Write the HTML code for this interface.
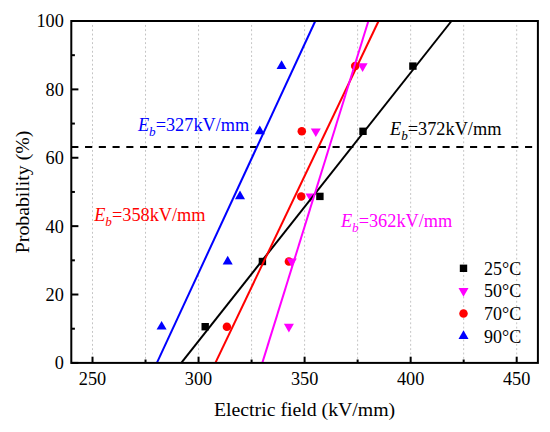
<!DOCTYPE html><html><head><meta charset="utf-8"><style>html,body{margin:0;padding:0;background:#fff;overflow:hidden;}svg{display:block;}text{font-family:"Liberation Serif",serif;}</style></head><body>
<svg width="550" height="432" viewBox="0 0 550 432">
<rect width="550" height="432" fill="#fff"/>
<line x1="92.51" y1="24.95" x2="92.51" y2="361.90" stroke="#c4c4c4" stroke-width="1" stroke-dasharray="1.9 2.41"/>
<line x1="145.53" y1="24.95" x2="145.53" y2="361.90" stroke="#c4c4c4" stroke-width="1" stroke-dasharray="1.9 2.41"/>
<line x1="198.55" y1="24.95" x2="198.55" y2="361.90" stroke="#c4c4c4" stroke-width="1" stroke-dasharray="1.9 2.41"/>
<line x1="251.58" y1="24.95" x2="251.58" y2="361.90" stroke="#c4c4c4" stroke-width="1" stroke-dasharray="1.9 2.41"/>
<line x1="304.60" y1="24.95" x2="304.60" y2="361.90" stroke="#c4c4c4" stroke-width="1" stroke-dasharray="1.9 2.41"/>
<line x1="357.62" y1="24.95" x2="357.62" y2="361.90" stroke="#c4c4c4" stroke-width="1" stroke-dasharray="1.9 2.41"/>
<line x1="410.65" y1="24.95" x2="410.65" y2="361.90" stroke="#c4c4c4" stroke-width="1" stroke-dasharray="1.9 2.41"/>
<line x1="463.67" y1="24.95" x2="463.67" y2="361.90" stroke="#c4c4c4" stroke-width="1" stroke-dasharray="1.9 2.41"/>
<line x1="516.69" y1="24.95" x2="516.69" y2="361.90" stroke="#c4c4c4" stroke-width="1" stroke-dasharray="1.9 2.41"/>
<line x1="71.30" y1="146.9" x2="537.90" y2="146.9" stroke="#000" stroke-width="2" stroke-dasharray="7.1 6.65"/>
<line x1="92.51" y1="362.90" x2="92.51" y2="356.70" stroke="#000" stroke-width="2"/>
<line x1="198.55" y1="362.90" x2="198.55" y2="356.70" stroke="#000" stroke-width="2"/>
<line x1="304.60" y1="362.90" x2="304.60" y2="356.70" stroke="#000" stroke-width="2"/>
<line x1="410.65" y1="362.90" x2="410.65" y2="356.70" stroke="#000" stroke-width="2"/>
<line x1="516.69" y1="362.90" x2="516.69" y2="356.70" stroke="#000" stroke-width="2"/>
<line x1="145.53" y1="362.90" x2="145.53" y2="359.50" stroke="#000" stroke-width="2"/>
<line x1="251.58" y1="362.90" x2="251.58" y2="359.50" stroke="#000" stroke-width="2"/>
<line x1="357.62" y1="362.90" x2="357.62" y2="359.50" stroke="#000" stroke-width="2"/>
<line x1="463.67" y1="362.90" x2="463.67" y2="359.50" stroke="#000" stroke-width="2"/>
<line x1="71.30" y1="362.90" x2="78.40" y2="362.90" stroke="#000" stroke-width="2"/>
<line x1="71.30" y1="294.52" x2="78.40" y2="294.52" stroke="#000" stroke-width="2"/>
<line x1="71.30" y1="226.14" x2="78.40" y2="226.14" stroke="#000" stroke-width="2"/>
<line x1="71.30" y1="157.76" x2="78.40" y2="157.76" stroke="#000" stroke-width="2"/>
<line x1="71.30" y1="89.38" x2="78.40" y2="89.38" stroke="#000" stroke-width="2"/>
<line x1="71.30" y1="21.00" x2="78.40" y2="21.00" stroke="#000" stroke-width="2"/>
<line x1="71.30" y1="328.71" x2="74.90" y2="328.71" stroke="#000" stroke-width="2"/>
<line x1="71.30" y1="260.33" x2="74.90" y2="260.33" stroke="#000" stroke-width="2"/>
<line x1="71.30" y1="191.95" x2="74.90" y2="191.95" stroke="#000" stroke-width="2"/>
<line x1="71.30" y1="123.57" x2="74.90" y2="123.57" stroke="#000" stroke-width="2"/>
<line x1="71.30" y1="55.19" x2="74.90" y2="55.19" stroke="#000" stroke-width="2"/>
<circle cx="226.90" cy="326.70" r="4.25" fill="#f00"/>
<circle cx="288.90" cy="261.50" r="4.25" fill="#f00"/>
<circle cx="301.20" cy="196.40" r="4.25" fill="#f00"/>
<circle cx="301.80" cy="131.30" r="4.25" fill="#f00"/>
<circle cx="355.20" cy="66.10" r="4.25" fill="#f00"/>
<polygon points="288.90,332.50 283.88,323.80 293.92,323.80" fill="#f0f"/>
<polygon points="291.80,267.30 286.78,258.60 296.82,258.60" fill="#f0f"/>
<polygon points="310.60,202.20 305.58,193.50 315.62,193.50" fill="#f0f"/>
<polygon points="315.80,137.10 310.78,128.40 320.82,128.40" fill="#f0f"/>
<polygon points="362.60,71.90 357.58,63.20 367.62,63.20" fill="#f0f"/>
<polygon points="161.60,320.90 156.58,329.60 166.62,329.60" fill="#00f"/>
<polygon points="227.70,255.70 222.68,264.40 232.72,264.40" fill="#00f"/>
<polygon points="240.00,190.60 234.98,199.30 245.02,199.30" fill="#00f"/>
<polygon points="259.80,125.50 254.78,134.20 264.82,134.20" fill="#00f"/>
<polygon points="281.60,60.30 276.58,69.00 286.62,69.00" fill="#00f"/>
<rect x="201.50" y="323.00" width="7.4" height="7.4" fill="#000"/>
<rect x="258.70" y="257.80" width="7.4" height="7.4" fill="#000"/>
<rect x="316.20" y="192.70" width="7.4" height="7.4" fill="#000"/>
<rect x="359.30" y="127.60" width="7.4" height="7.4" fill="#000"/>
<rect x="409.20" y="62.40" width="7.4" height="7.4" fill="#000"/>
<line x1="156.9" y1="362.9" x2="315.3" y2="21.0" stroke="#00f" stroke-width="2"/>
<line x1="181.3" y1="362.9" x2="451.5" y2="21.0" stroke="#000" stroke-width="2"/>
<line x1="215.4" y1="362.9" x2="378.6" y2="21.0" stroke="#f00" stroke-width="2"/>
<line x1="262.3" y1="362.9" x2="368.4" y2="21.0" stroke="#f0f" stroke-width="2"/>
<rect x="71.3" y="21.0" width="466.60" height="341.90" fill="none" stroke="#000" stroke-width="2"/>
<text x="92.51" y="384.8" font-size="18.3" text-anchor="middle">250</text>
<text x="198.55" y="384.8" font-size="18.3" text-anchor="middle">300</text>
<text x="304.60" y="384.8" font-size="18.3" text-anchor="middle">350</text>
<text x="410.65" y="384.8" font-size="18.3" text-anchor="middle">400</text>
<text x="516.69" y="384.8" font-size="18.3" text-anchor="middle">450</text>
<text x="63.8" y="369.30" font-size="18.3" text-anchor="end">0</text>
<text x="63.8" y="300.92" font-size="18.3" text-anchor="end">20</text>
<text x="63.8" y="232.54" font-size="18.3" text-anchor="end">40</text>
<text x="63.8" y="164.16" font-size="18.3" text-anchor="end">60</text>
<text x="63.8" y="95.78" font-size="18.3" text-anchor="end">80</text>
<text x="63.8" y="27.40" font-size="18.3" text-anchor="end">100</text>
<text x="304.60" y="415.9" font-size="19.8" text-anchor="middle">Electric field (kV/mm)</text>
<text transform="translate(28.7 191.95) rotate(-90)" x="0" y="0" font-size="19.8" text-anchor="middle">Probability (%)</text>
<text x="137.9" y="131.2" font-size="18.3" fill="#00f"><tspan font-style="italic">E</tspan><tspan font-style="italic" font-size="13.18" dy="4.9">b</tspan><tspan dy="-4.9">=327kV/mm</tspan></text>
<text x="390.0" y="135.0" font-size="18.3" fill="#000"><tspan font-style="italic">E</tspan><tspan font-style="italic" font-size="13.18" dy="4.9">b</tspan><tspan dy="-4.9">=372kV/mm</tspan></text>
<text x="94.2" y="220.8" font-size="18.3" fill="#f00"><tspan font-style="italic">E</tspan><tspan font-style="italic" font-size="13.18" dy="4.9">b</tspan><tspan dy="-4.9">=358kV/mm</tspan></text>
<text x="340.9" y="227.0" font-size="18.3" fill="#f0f"><tspan font-style="italic">E</tspan><tspan font-style="italic" font-size="13.18" dy="4.9">b</tspan><tspan dy="-4.9">=362kV/mm</tspan></text>
<rect x="459.80" y="264.60" width="7.4" height="7.4" fill="#000"/>
<polygon points="463.50,296.70 458.48,288.00 468.52,288.00" fill="#f0f"/>
<circle cx="463.50" cy="313.50" r="4.25" fill="#f00"/>
<polygon points="463.50,330.30 458.48,339.00 468.52,339.00" fill="#00f"/>
<text x="484" y="274.80" font-size="18">25°C</text>
<text x="484" y="297.40" font-size="18">50°C</text>
<text x="484" y="320.00" font-size="18">70°C</text>
<text x="484" y="342.60" font-size="18">90°C</text>
</svg></body></html>
